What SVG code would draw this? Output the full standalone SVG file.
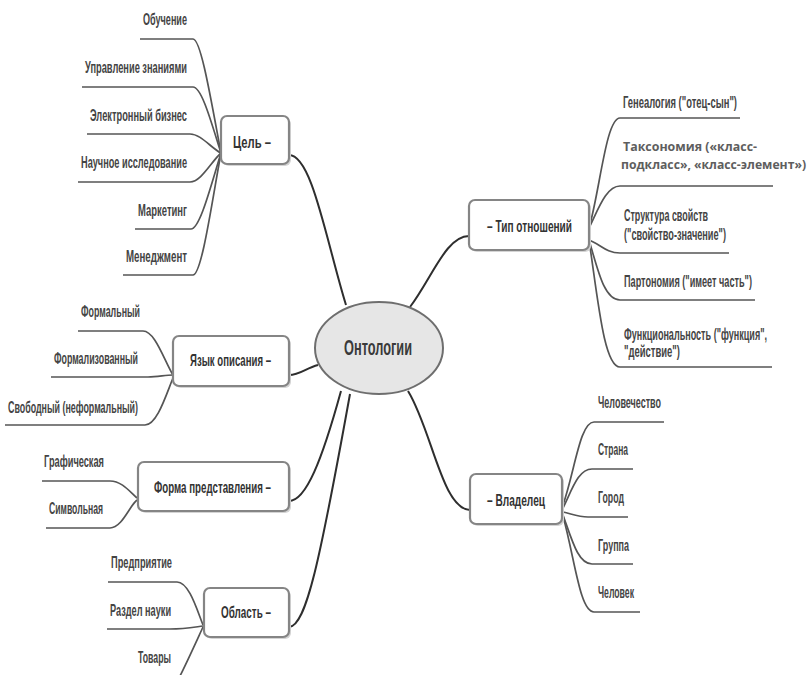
<svg xmlns="http://www.w3.org/2000/svg" width="811" height="675" viewBox="0 0 811 675">
<defs>
<style>
.bg{fill:#ffffff}
.box{fill:#ffffff;stroke:#858585;stroke-width:2.2}
.shadow{fill:#d4d4d4}
.lbl{font-family:"Liberation Sans","DejaVu Sans",sans-serif;font-size:16px;font-weight:bold;fill:#333333}
.item{font-family:"Liberation Sans","DejaVu Sans",sans-serif;font-size:16px;font-weight:bold;fill:#444444}
.tax{font-family:"Open Sans","Liberation Sans",sans-serif;font-size:13px;font-weight:bold;fill:#5e5e5e}
.br{fill:none;stroke:#555555;stroke-width:1.7}
.main{fill:none;stroke:#2e2e2e;stroke-width:2}
</style>
</defs>
<rect class="bg" x="0" y="0" width="811" height="675"/>

<g id="connectors">
<path class="main" d="M289,155 C312,155 326,240 346,305"/>
<path class="main" d="M289,375 C300,375 306,368 318,365"/>
<path class="main" d="M289,501 C306,501 322,460 341,391"/>
<path class="main" d="M289,627 C306,627 320,560 350,394"/>
<path class="main" d="M410,307 C432,278 446,236 469,236"/>
<path class="main" d="M408,391 C432,430 442,509 470,510"/>
<path class="br" d="M140,39 H193 C201,39 211,100 221,153"/>
<path class="br" d="M82,87 H193 C202,87 212,125 221,153"/>
<path class="br" d="M87,134 H190 C201,134 211,148 221,153"/>
<path class="br" d="M78,182 H190 C201,182 211,162 221,153"/>
<path class="br" d="M135,229 H191 C200,229 211,185 221,153"/>
<path class="br" d="M123,275 H193 C202,275 213,195 221,153"/>
<path class="br" d="M78,331 H143 C155,331 164,360 173,375"/>
<path class="br" d="M51,377 H148 C158,377 165,375 173,375"/>
<path class="br" d="M5,425 H145 C157,425 166,395 173,378"/>
<path class="br" d="M42,481 H110 C122,481 130,492 137,498"/>
<path class="br" d="M46,528 H110 C122,528 130,505 137,500"/>
<path class="br" d="M108,582 H177 C189,582 197,610 203,625"/>
<path class="br" d="M107,629 H170 C185,629 195,627 203,626"/>
<path class="br" d="M203,627 C197,640 188,660 180,676"/>
<path class="br" d="M589,228 C600,190 606,118 620,118 H740"/>
<path class="br" d="M589,228 C598,210 606,186 620,186 H773"/>
<path class="br" d="M589,240 C600,244 606,253 620,253 H729"/>
<path class="br" d="M589,240 C598,270 604,300 620,300 H755"/>
<path class="br" d="M589,240 C598,300 604,367 620,367 H772"/>
<path class="br" d="M563,505 C575,470 580,422 594,422 H664"/>
<path class="br" d="M563,508 C572,490 578,469 592,469 H633"/>
<path class="br" d="M563,512 C572,514 578,517 588,517 H628"/>
<path class="br" d="M563,515 C572,540 578,564 592,564 H633"/>
<path class="br" d="M563,516 C575,560 580,612 594,612 H640"/>
</g>

<g id="center">
<ellipse cx="379" cy="348" rx="64" ry="46" fill="#e6e6e6" stroke="#6e6e6e" stroke-width="2"/>
<text transform="translate(344,355) scale(0.6,1)" font-family="Liberation Sans, DejaVu Sans, sans-serif" font-size="22" font-weight="bold" fill="#3a3a3a" textLength="113.3" lengthAdjust="spacingAndGlyphs">Онтологии</text>
</g>

<g id="goal">
<rect class="shadow" x="223" y="118" width="68" height="48" rx="6"/>
<rect class="box" x="221" y="116" width="68" height="48" rx="6"/>
<text class="lbl" transform="translate(233,148) scale(0.6,1)" textLength="63.3" lengthAdjust="spacingAndGlyphs">Цель –</text>
</g>
<g id="goal-items">
<text class="item" transform="translate(143,25) scale(0.6,1)" textLength="73.3" lengthAdjust="spacingAndGlyphs">Обучение</text>
<text class="item" transform="translate(85,73) scale(0.6,1)" textLength="170" lengthAdjust="spacingAndGlyphs">Управление знаниями</text>
<text class="item" transform="translate(90,121) scale(0.6,1)" textLength="161.7" lengthAdjust="spacingAndGlyphs">Электронный бизнес</text>
<text class="item" transform="translate(81,168) scale(0.6,1)" textLength="176.7" lengthAdjust="spacingAndGlyphs">Научное исследование</text>
<text class="item" transform="translate(138,216) scale(0.6,1)" textLength="81.7" lengthAdjust="spacingAndGlyphs">Маркетинг</text>
<text class="item" transform="translate(126,262) scale(0.6,1)" textLength="101.7" lengthAdjust="spacingAndGlyphs">Менеджмент</text>
</g>

<g id="language">
<rect class="shadow" x="175" y="338" width="116" height="50" rx="6"/>
<rect class="box" x="173" y="336" width="116" height="50" rx="6"/>
<text class="lbl" transform="translate(190,366) scale(0.6,1)" textLength="135" lengthAdjust="spacingAndGlyphs">Язык описания –</text>
</g>
<g id="language-items">
<text class="item" transform="translate(81,317) scale(0.6,1)" textLength="98.3" lengthAdjust="spacingAndGlyphs">Формальный</text>
<text class="item" transform="translate(54,364) scale(0.6,1)" textLength="140" lengthAdjust="spacingAndGlyphs">Формализованный</text>
<text class="item" transform="translate(8,413) scale(0.6,1)" textLength="216.7" lengthAdjust="spacingAndGlyphs">Свободный (неформальный)</text>
</g>

<g id="form">
<rect class="shadow" x="140" y="464" width="151" height="49" rx="6"/>
<rect class="box" x="138" y="462" width="151" height="49" rx="6"/>
<text class="lbl" transform="translate(154,493) scale(0.6,1)" textLength="195" lengthAdjust="spacingAndGlyphs">Форма представления –</text>
</g>
<g id="form-items">
<text class="item" transform="translate(44,467) scale(0.6,1)" textLength="100" lengthAdjust="spacingAndGlyphs">Графическая</text>
<text class="item" transform="translate(49,514) scale(0.6,1)" textLength="90" lengthAdjust="spacingAndGlyphs">Символьная</text>
</g>

<g id="area">
<rect class="shadow" x="206" y="590" width="85" height="49" rx="6"/>
<rect class="box" x="204" y="588" width="85" height="49" rx="6"/>
<text class="lbl" transform="translate(221,618) scale(0.6,1)" textLength="83.3" lengthAdjust="spacingAndGlyphs">Область –</text>
</g>
<g id="area-items">
<text class="item" transform="translate(111,568) scale(0.6,1)" textLength="101.7" lengthAdjust="spacingAndGlyphs">Предприятие</text>
<text class="item" transform="translate(110,616) scale(0.6,1)" textLength="101.7" lengthAdjust="spacingAndGlyphs">Раздел науки</text>
<text class="item" transform="translate(138,663) scale(0.6,1)" textLength="55" lengthAdjust="spacingAndGlyphs">Товары</text>
</g>

<g id="relation">
<rect class="shadow" x="471" y="202" width="120" height="50" rx="6"/>
<rect class="box" x="469" y="200" width="120" height="50" rx="6"/>
<text class="lbl" transform="translate(487,232) scale(0.6,1)" textLength="141.7" lengthAdjust="spacingAndGlyphs">–  Тип отношений</text>
</g>
<g id="relation-items">
<text class="item" transform="translate(623,108) scale(0.6,1)" textLength="190" lengthAdjust="spacingAndGlyphs">Генеалогия ("отец-сын")</text>
<text class="tax" transform="translate(623,151) scale(0.9,1)" textLength="148.9" lengthAdjust="spacingAndGlyphs">Таксономия («класс-</text>
<text class="tax" transform="translate(621,169) scale(0.9,1)" textLength="205.6" lengthAdjust="spacingAndGlyphs">подкласс», «класс-элемент»)</text>
<text class="item" transform="translate(624,221) scale(0.6,1)" textLength="140" lengthAdjust="spacingAndGlyphs">Структура свойств</text>
<text class="item" transform="translate(624,240) scale(0.6,1)" textLength="170" lengthAdjust="spacingAndGlyphs">("свойство-значение")</text>
<text class="item" transform="translate(624,287) scale(0.6,1)" textLength="213.3" lengthAdjust="spacingAndGlyphs">Партономия ("имеет часть")</text>
<text class="item" transform="translate(624,340) scale(0.6,1)" textLength="238.3" lengthAdjust="spacingAndGlyphs">Функциональность ("функция",</text>
<text class="item" transform="translate(624,357) scale(0.6,1)" textLength="93.3" lengthAdjust="spacingAndGlyphs">"действие")</text>
</g>

<g id="owner">
<rect class="shadow" x="472" y="476" width="92" height="50" rx="6"/>
<rect class="box" x="470" y="474" width="92" height="50" rx="6"/>
<text class="lbl" transform="translate(487,506) scale(0.6,1)" textLength="96.7" lengthAdjust="spacingAndGlyphs">–  Владелец</text>
</g>
<g id="owner-items">
<text class="item" transform="translate(598,408) scale(0.6,1)" textLength="105" lengthAdjust="spacingAndGlyphs">Человечество</text>
<text class="item" transform="translate(598,455) scale(0.6,1)" textLength="50" lengthAdjust="spacingAndGlyphs">Страна</text>
<text class="item" transform="translate(598,503) scale(0.6,1)" textLength="43.3" lengthAdjust="spacingAndGlyphs">Город</text>
<text class="item" transform="translate(598,551) scale(0.6,1)" textLength="51.7" lengthAdjust="spacingAndGlyphs">Группа</text>
<text class="item" transform="translate(598,598) scale(0.6,1)" textLength="60" lengthAdjust="spacingAndGlyphs">Человек</text>
</g>
</svg>
